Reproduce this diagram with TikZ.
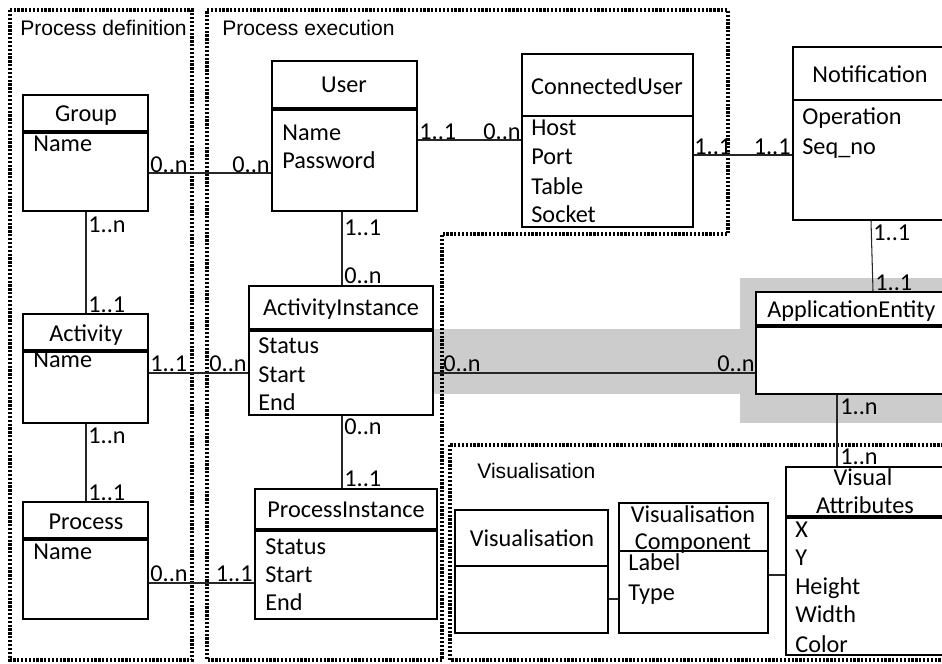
\documentclass[tikz,border=0pt]{standalone}
\usepackage{fontspec}
\setmainfont{Carlito}
\newfontfamily\secfont{Liberation Sans}
\usetikzlibrary{fit}
\definecolor{hlgray}{RGB}{204,204,204}
\begin{document}
\begin{tikzpicture}[x=0.02cm,y=-0.02cm,
  ent/.style={draw=black, line width=1.4pt, inner sep=0pt, fill=white},
  thickdiv/.style={line width=2.4pt},
  thindiv/.style={line width=1.5pt},
  conn/.style={line width=0.6pt, draw=black!85},
  region/.style={line width=2pt, dash pattern=on 1.3pt off 0.9pt},
  sec/.style={font=\secfont\fontsize{12}{14}\selectfont, anchor=base west, inner sep=0pt},
  ttl/.style={font=\fontsize{13.8}{16}\selectfont, anchor=base, inner sep=0pt},
  att/.style={font=\fontsize{13.8}{16}\selectfont, anchor=base west, inner sep=0pt},
  mulw/.style={font=\fontsize{13.8}{16}\selectfont, anchor=base west, inner sep=0pt},
  mule/.style={font=\fontsize{13.8}{16}\selectfont, anchor=base east, inner sep=0pt},
]
\useasboundingbox (0,0) rectangle (942,663);
\begin{scope}
\clip (0,0) rectangle (942,663);
% shaded highlight
\fill[hlgray] (433,329) rectangle (740,394);
\fill[hlgray] (740,278) rectangle (960,423);
% regions
\draw[region] (10,10) rectangle (192,660);
\draw[region] (207,10) -- (728,10) -- (728,234) -- (442,234) -- (442,660) -- (207,660) -- cycle;
\draw[region] (450,445) rectangle (990,660);
\node[sec] (secdef) at (20,35) {Process definition};
\node[sec] (secexe) at (222,35) {Process execution};
\node[sec] (secvis) at (477,478) {Visualisation};

% entities
\node[ent, fit={(23,95)(148,211)}] (group) {};
\node[ent, fit={(272,61)(417,211)}] (user) {};
\node[ent, fit={(522,54)(693,227)}] (cuser) {};
\node[ent, fit={(793,47)(990,220)}] (notif) {};
\node[ent, fit={(23,314)(148,423)}] (activity) {};
\node[ent, fit={(249,286)(433,415)}] (actinst) {};
\node[ent, fit={(23,502)(148,619)}] (process) {};
\node[ent, fit={(255,489)(437,619)}] (procinst) {};
\node[ent, fit={(756,292)(990,394)}] (appent) {};
\node[ent, fit={(455,510)(608,633)}] (vis) {};
\node[ent, fit={(619,503)(768,633)}] (viscomp) {};
\node[ent, fit={(786,467)(990,655)}] (visattr) {};

% dividers
\draw[thickdiv] (23,132) -- (148,132);
\draw[thickdiv] (272,109) -- (417,109);
\draw[thindiv] (522,116) -- (693,116);
\draw[thindiv] (793,100) -- (990,100);
\draw[thickdiv] (23,351) -- (148,351);
\draw[thickdiv] (249,330) -- (433,330);
\draw[thickdiv] (23,539) -- (148,539);
\draw[thickdiv] (255,530) -- (437,530);
\draw[thickdiv] (756,326) -- (990,326);
\draw[thindiv] (455,566) -- (608,566);
\draw[thindiv] (619,551) -- (768,551);
\draw[thickdiv] (786,517) -- (990,517);

% titles
\node[ttl] (tgroup) at (86,121) {Group};
\node[ttl] (tuser) at (344,92) {User};
\node[ttl] (tcuser) at (607,94) {ConnectedUser};
\node[ttl] (tnotif) at (870,82) {Notification};
\node[ttl] (tact) at (86,341) {Activity};
\node[ttl] (tactinst) at (341,315) {ActivityInstance};
\node[ttl] (tproc) at (86,529) {Process};
\node[ttl] (tprocinst) at (346,517) {ProcessInstance};
\node[ttl, anchor=base west] (tappent) at (767,317) {ApplicationEntity};
\node[ttl] (tvis) at (532,546) {Visualisation};
\node[ttl] (tviscomp1) at (693,522) {Visualisation};
\node[ttl] (tviscomp2) at (693,549) {Component};
\node[ttl] (tvisattr1) at (863,485) {Visual};
\node[ttl] (tvisattr2) at (865,513) {Attributes};

% attributes
\node[att] (a1) at (33,151) {Name};
\node[att] (a2) at (282,140) {Name};
\node[att] (a3) at (282,168) {Password};
\node[att] (a4) at (531,135) {Host};
\node[att] (a5) at (531,164) {Port};
\node[att] (a6) at (531,194) {Table};
\node[att] (a7) at (531,222) {Socket};
\node[att] (a8) at (802,124) {Operation};
\node[att] (a9) at (802,154) {Seq\_no};
\node[att] (a10) at (33,367) {Name};
\node[att] (a11) at (258,353) {Status};
\node[att] (a12) at (258,382) {Start};
\node[att] (a13) at (258,410) {End};
\node[att] (a14) at (265,554) {Status};
\node[att] (a15) at (265,582) {Start};
\node[att] (a16) at (265,610) {End};
\node[att] (a17) at (33,559) {Name};
\node[att] (a18) at (628,570) {Label};
\node[att] (a19) at (628,600) {Type};
\node[att] (a20) at (795,537) {X};
\node[att] (a21) at (795,565) {Y};
\node[att] (a22) at (795,594) {Height};
\node[att] (a23) at (795,622) {Width};
\node[att] (a24) at (795,652) {Color};

% connectors
\draw[conn] (group.east |- 0,173) -- (user.west |- 0,173);
\draw[conn] (user.east |- 0,140) -- (cuser.west |- 0,140);
\draw[conn] (cuser.east |- 0,155) -- (notif.west |- 0,155);
\draw[conn] (group.south -| 86,0) -- (activity.north -| 86,0);
\draw[conn] (activity.south -| 86,0) -- (process.north -| 86,0);
\draw[conn] (activity.east |- 0,373) -- (actinst.west |- 0,373);
\draw[conn] (process.east |- 0,583) -- (procinst.west |- 0,583);
\draw[conn] (user.south -| 342,0) -- (actinst.north -| 342,0);
\draw[conn] (actinst.south -| 342,0) -- (procinst.north -| 342,0);
\draw[conn] (actinst.east |- 0,373) -- (appent.west |- 0,373);
\draw[conn] (notif.south -| 871,0) -- (appent.north -| 873,0);
\draw[conn] (appent.south -| 837,0) -- (visattr.north -| 837,0);
\draw[conn] (vis.east |- 0,599) -- (viscomp.west |- 0,599);
\draw[conn] (viscomp.east |- 0,575) -- (visattr.west |- 0,575);

% multiplicities
\node[mulw] (m1) at (150,172) {0..n};
\node[mule] (m2) at (270,172) {0..n};
\node[mulw] (m3) at (419,139) {1..1};
\node[mule] (m4) at (521,139) {0..n};
\node[mulw] (m5) at (694,154) {1..1};
\node[mule] (m6) at (791,154) {1..1};
\node[mulw] (m7) at (88,232) {1..n};
\node[mulw] (m8) at (88,312) {1..1};
\node[mulw] (m9) at (150,371) {1..1};
\node[mule] (m10) at (247,371) {0..n};
\node[mulw] (m11) at (344,235) {1..1};
\node[mulw] (m12) at (344,283) {0..n};
\node[mulw] (m13) at (344,434) {0..n};
\node[mulw] (m14) at (344,486) {1..1};
\node[mulw] (m15) at (88,443) {1..n};
\node[mulw] (m16) at (88,500) {1..1};
\node[mulw] (m17) at (150,581) {0..n};
\node[mule] (m18) at (253,581) {1..1};
\node[mulw] (m19) at (443,371) {0..n};
\node[mule] (m20) at (755,371) {0..n};
\node[mulw] (m21) at (873,240) {1..1};
\node[mulw] (m22) at (875,290) {1..1};
\node[mulw] (m23) at (840,414) {1..n};
\node[mulw] (m24) at (840,464) {1..n};
\end{scope}
\end{tikzpicture}
\end{document}
